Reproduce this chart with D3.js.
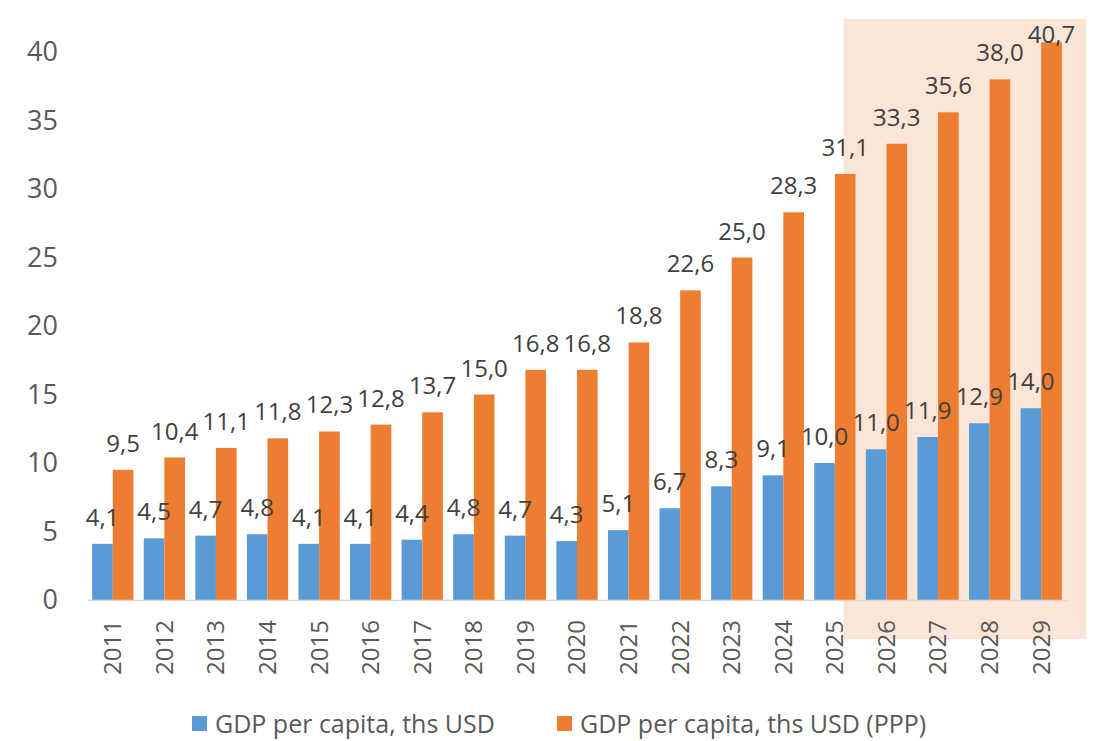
<!DOCTYPE html>
<html>
<head>
<meta charset="utf-8">
<script src="https://cdn.jsdelivr.net/npm/d3@7"></script>
<style>
  body { margin: 0; background: #fff; }
  svg { font-family: "Open Sans", sans-serif; }
</style>
</head>
<body>
<svg id="chart" width="1093" height="741"></svg>
<script>
// chart data
const years = ['2011', '2012', '2013', '2014', '2015', '2016', '2017', '2018', '2019', '2020',
  '2021', '2022', '2023', '2024', '2025', '2026', '2027', '2028', '2029'];
const gdpUsd = [4.1, 4.5, 4.7, 4.8, 4.1, 4.1, 4.4, 4.8, 4.7, 4.3, 5.1, 6.7, 8.3, 9.1, 10.0, 11.0, 11.9, 12.9, 14.0];
const gdpPpp = [9.5, 10.4, 11.1, 11.8, 12.3, 12.8, 13.7, 15.0, 16.8, 16.8, 18.8, 22.6, 25.0, 28.3, 31.1, 33.3, 35.6, 38.0, 40.7];
const seriesNames = ['GDP per capita, ths USD', 'GDP per capita, ths USD (PPP)'];
const yTicks = [0, 5, 10, 15, 20, 25, 30, 35, 40];
const forecastYears = ['2026', '2027', '2028', '2029'];

const colors = ['#5B9BD5', '#ED7D31'];
const margin = { left: 87, right: 26, top: 52, bottom: 141 };
const width = 1093, height = 741;

const svg = d3.select('#chart');

const x0 = d3.scaleBand()
  .domain(years)
  .range([margin.left, width - margin.right])
  .paddingInner(0.2)
  .paddingOuter(0.1);

const x1 = d3.scaleBand()
  .domain([0, 1])
  .range([0, x0.bandwidth()]);

const y = d3.scaleLinear()
  .domain([0, 40])
  .range([height - margin.bottom, margin.top]);

const fmt = v => d3.format('.1f')(v).replace('.', ',');

// forecast shading (starts half way into the last actual group)
const shadeLeft = x0(forecastYears[0]) - x0.step() * 0.43;
svg.append('rect')
  .attr('x', shadeLeft)
  .attr('y', 19)
  .attr('width', 1086 - shadeLeft)
  .attr('height', 639 - 19)
  .attr('fill', '#FBE5D6');

// y axis labels, no line
const yAxis = svg.append('g')
  .attr('transform', `translate(${margin.left},0)`)
  .call(d3.axisLeft(y).tickValues(yTicks).tickSize(0).tickPadding(29));
yAxis.select('.domain').remove();
yAxis.selectAll('text')
  .attr('fill', '#595959')
  .style('font-size', '27px')
  .style('font-family', '"Open Sans", sans-serif');

// bars
const rows = years.map((yr, i) => ({ yr, vals: [gdpUsd[i], gdpPpp[i]] }));
const groups = svg.append('g')
  .selectAll('g')
  .data(rows)
  .join('g')
  .attr('transform', d => `translate(${x0(d.yr)},0)`);

groups.selectAll('rect')
  .data(d => d.vals.map((v, k) => ({ v, k })))
  .join('rect')
  .attr('x', d => x1(d.k))
  .attr('y', d => y(d.v))
  .attr('width', x1.bandwidth())
  .attr('height', d => y(0) - y(d.v))
  .attr('fill', d => colors[d.k]);

// baseline + year labels
const xAxis = svg.append('g')
  .attr('transform', `translate(0,${y(0)})`)
  .call(d3.axisBottom(x0).tickSize(0));
xAxis.select('.domain')
  .attr('stroke', '#D9D9D9')
  .attr('stroke-width', 1.5);
xAxis.selectAll('text')
  .attr('transform', 'rotate(-90)')
  .attr('text-anchor', 'end')
  .attr('dy', '0.35em')
  .attr('x', -20)
  .attr('y', 0)
  .attr('fill', '#595959')
  .style('font-size', '24px')
  .style('font-family', '"Open Sans", sans-serif');

// data labels, kept inside the chart top
groups.selectAll('text.lbl')
  .data(d => d.vals.map((v, k) => ({ v, k })))
  .join('text')
  .attr('class', 'lbl')
  .attr('x', d => x1(d.k) + x1.bandwidth() / 2)
  .attr('y', d => Math.max(y(d.v) - 18, margin.top - 9))
  .attr('text-anchor', 'middle')
  .attr('fill', '#404040')
  .style('font-size', '24px')
  .text(d => fmt(d.v));

// legend
const legendX = [192, 557];
seriesNames.forEach((name, k) => {
  const g = svg.append('g').attr('transform', `translate(${legendX[k]},716)`);
  g.append('rect')
    .attr('x', 0).attr('y', 0)
    .attr('width', 15).attr('height', 15)
    .attr('fill', colors[k]);
  g.append('text')
    .attr('x', 23).attr('y', 17)
    .attr('fill', '#595959')
    .style('font-size', '25px')
    .text(name);
});
</script>
</body>
</html>
